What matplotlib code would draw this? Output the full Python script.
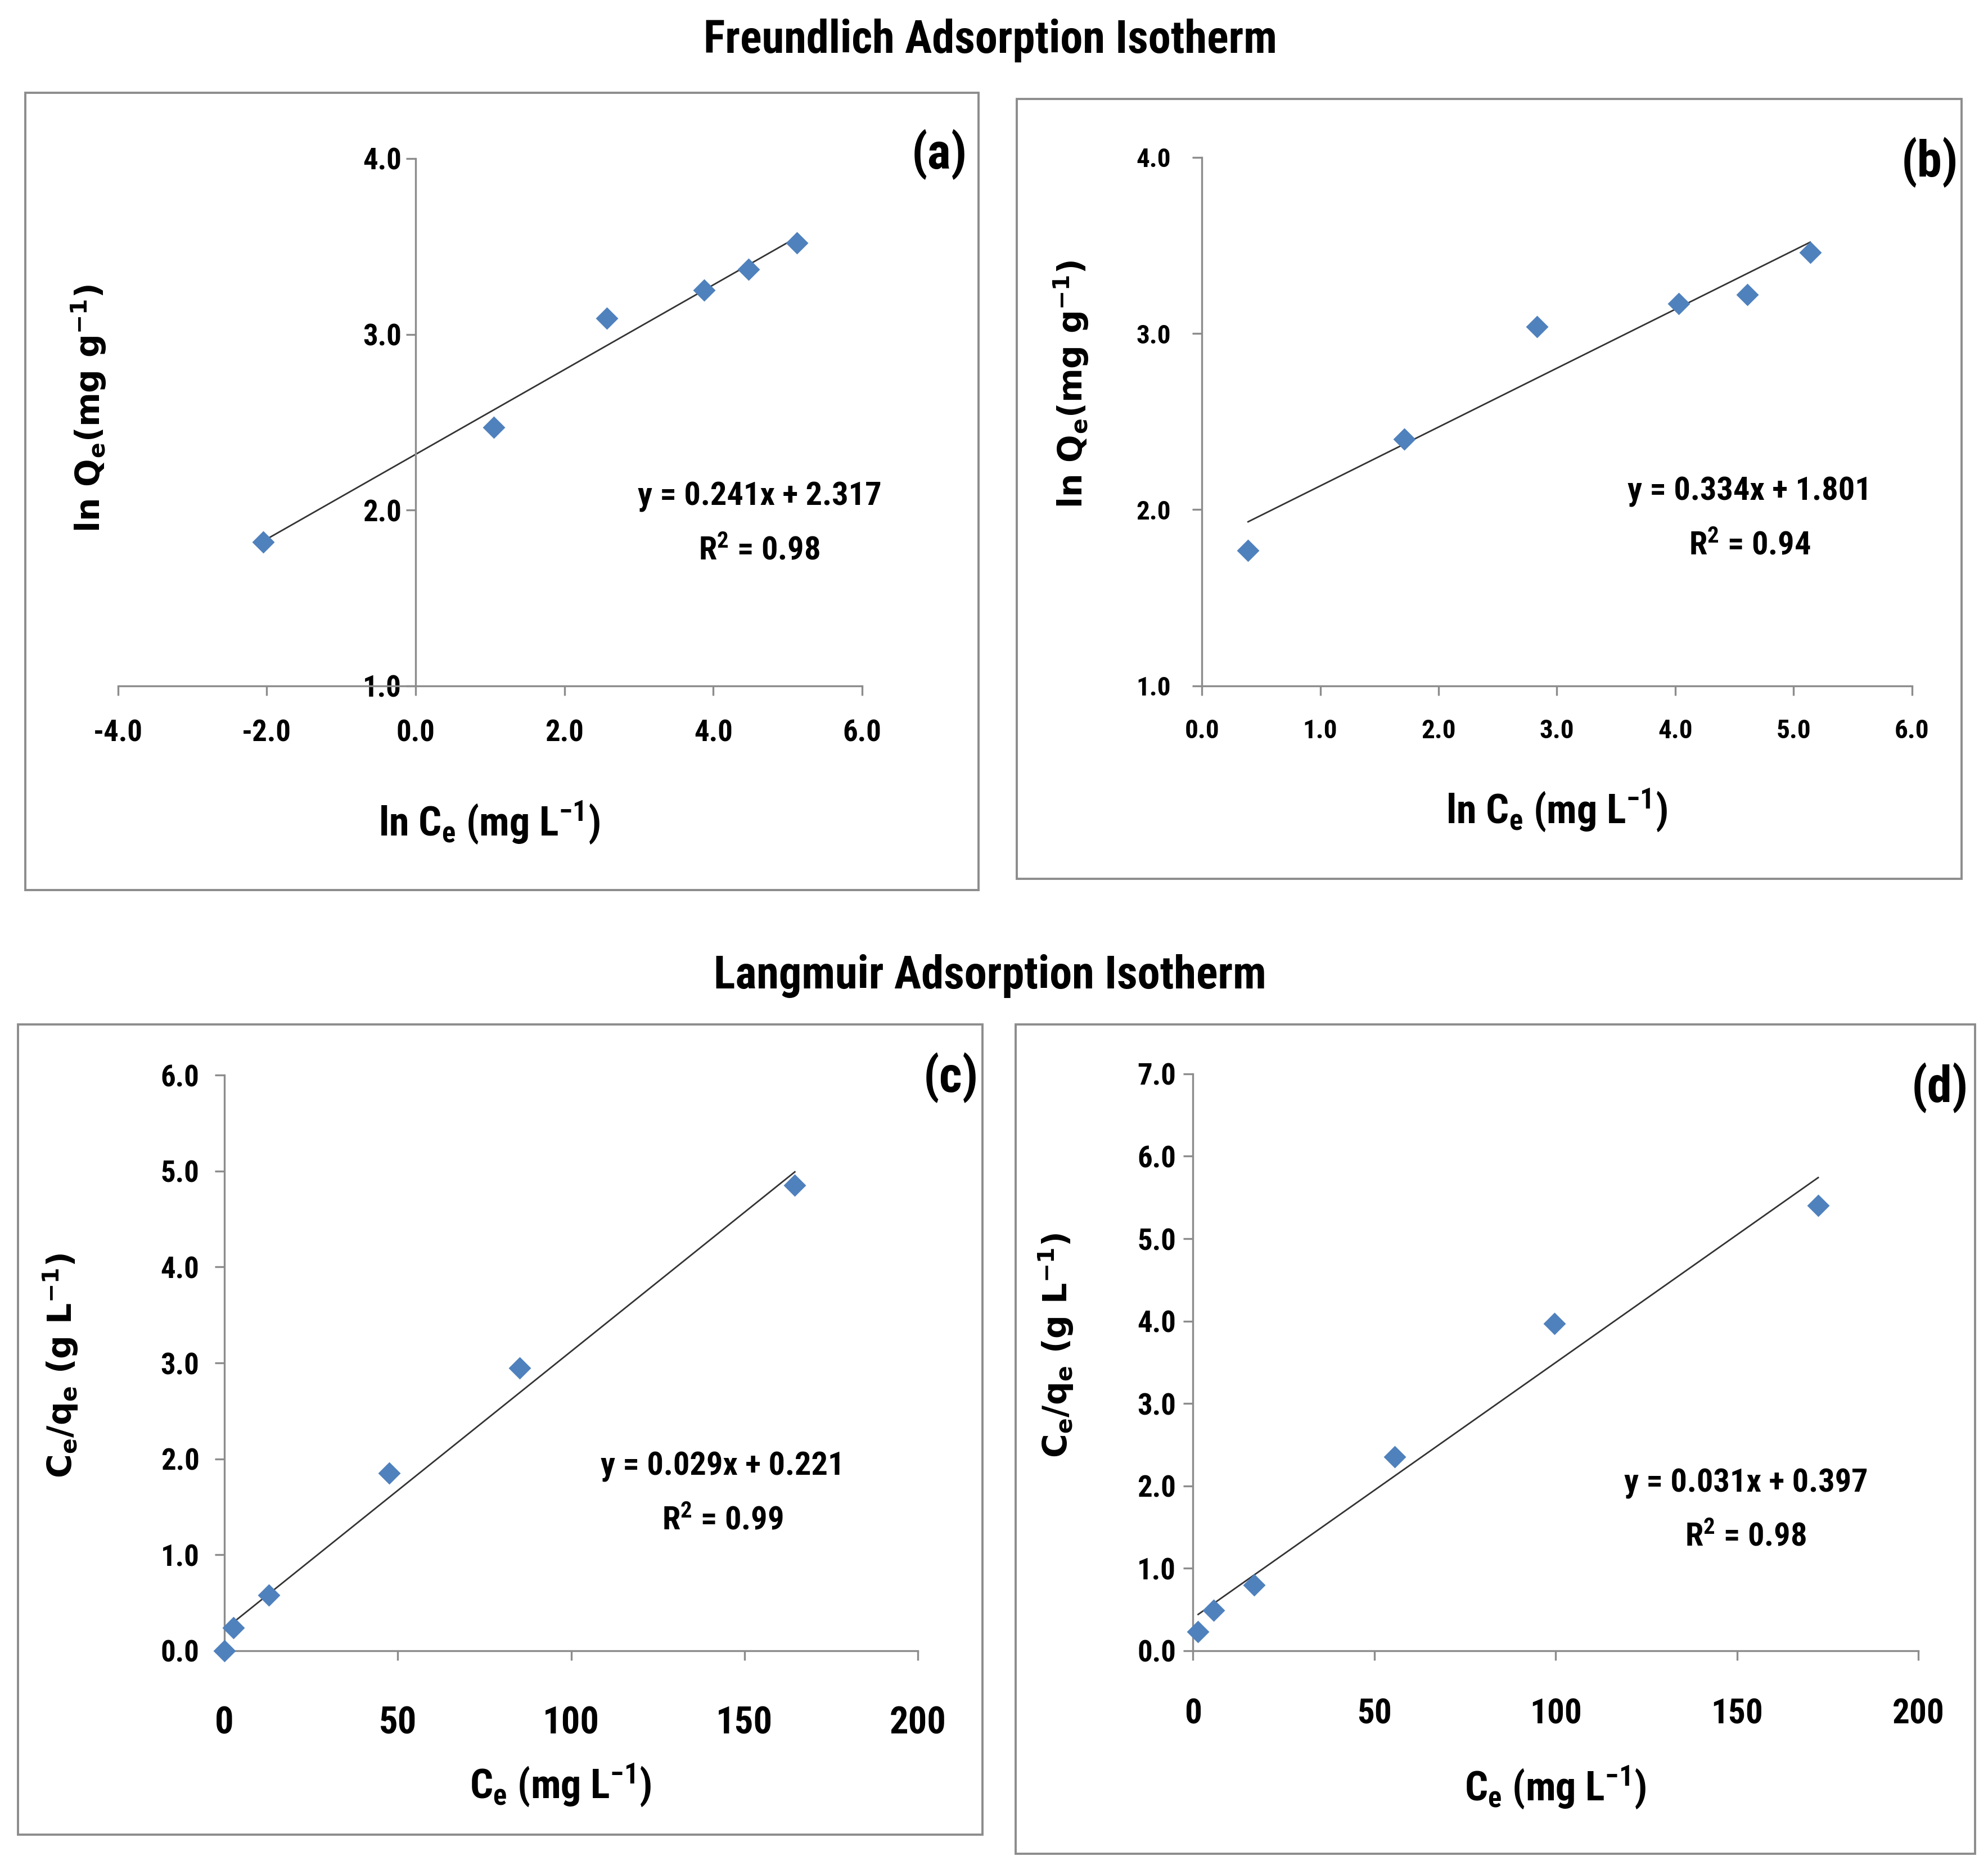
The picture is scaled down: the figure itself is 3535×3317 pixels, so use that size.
import matplotlib.pyplot as plt
from matplotlib import font_manager
from matplotlib.patches import Rectangle

# pick a narrow face close to the Calibri-like look of the original
available = {f.name for f in font_manager.fontManager.ttflist}
FONT = 'DejaVu Sans'
for cand in ['Roboto Condensed', 'Open Sans Condensed', 'PT Sans Narrow', 'Archivo Narrow',
             'Fira Sans Condensed', 'Liberation Sans Narrow', 'Arial Narrow',
             'Encode Sans Condensed', 'Barlow Semi Condensed', 'Carlito', 'Lato']:
    if cand in available:
        FONT = cand
        break

plt.rcParams['font.family'] = [FONT, 'DejaVu Sans']
plt.rcParams['mathtext.default'] = 'regular'
plt.rcParams['axes.unicode_minus'] = False

# Freundlich (a)
a_x = [-2.05, 1.05, 2.57, 3.88, 4.47, 5.12]
a_y = [1.82, 2.47, 3.09, 3.25, 3.37, 3.52]
a_fit = (0.241, 2.317, 0.98)
# Freundlich (b)
b_x = [0.39, 1.71, 2.83, 4.03, 4.61, 5.14]
b_y = [1.77, 2.40, 3.04, 3.17, 3.22, 3.46]
b_fit = (0.334, 1.801, 0.94)
# Langmuir (c)
c_x = [0.0, 2.6, 12.8, 47.5, 85.2, 164.5]
c_y = [0.0, 0.24, 0.58, 1.85, 2.95, 4.85]
c_fit = (0.029, 0.221, 0.99)
# Langmuir (d)
d_x = [1.4, 5.6, 16.8, 55.6, 99.7, 172.4]
d_y = [0.23, 0.49, 0.80, 2.35, 3.97, 5.40]
d_fit = (0.031, 0.397, 0.98)

ln_xticks = [-4.0, -2.0, 0.0, 2.0, 4.0, 6.0]
ln_xticks_b = [0.0, 1.0, 2.0, 3.0, 4.0, 5.0, 6.0]
ln_yticks = [1.0, 2.0, 3.0, 4.0]
ce_xticks = [0, 50, 100, 150, 200]
c_yticks = [0.0, 1.0, 2.0, 3.0, 4.0, 5.0, 6.0]
d_yticks = [0.0, 1.0, 2.0, 3.0, 4.0, 5.0, 6.0, 7.0]

GRAY = '#8c8c8c'
BLUE = '#4f81bd'

fig = plt.figure(figsize=(17.675, 16.585), dpi=200)


def panel(box, rect, x, y, fit, xticks, yticks, xfmt, yfmt, xpad, ypad, xsize, ysize,
          tag, tagpos, eqpos, xlab, xlabpos, ylab, ylabpos, yzero=False):
    fig.add_artist(Rectangle((box[0], box[1]), box[2] - box[0], box[3] - box[1],
                             transform=fig.transFigure, fill=False,
                             edgecolor=GRAY, linewidth=1.4))
    ax = fig.add_axes([rect[0], rect[1], rect[2] - rect[0], rect[3] - rect[1]])
    ax.set_facecolor('none')
    ax.set_xlim(xticks[0], xticks[-1])
    ax.set_ylim(yticks[0], yticks[-1])
    for s in ['top', 'right']:
        ax.spines[s].set_visible(False)
    for s in ['left', 'bottom']:
        ax.spines[s].set_color(GRAY)
        ax.spines[s].set_linewidth(1.2)
    if yzero:
        ax.spines['left'].set_position(('data', 0))
    ax.set_xticks(xticks)
    ax.set_yticks(yticks)
    ax.set_xticklabels([xfmt % v for v in xticks])
    ax.set_yticklabels([yfmt % v for v in yticks])
    ax.tick_params(axis='x', length=6, width=1.2, color=GRAY, pad=xpad,
                   labelsize=xsize)
    ax.tick_params(axis='y', length=6, width=1.2, color=GRAY, pad=ypad,
                   labelsize=ysize)
    for lab in ax.get_xticklabels() + ax.get_yticklabels():
        lab.set_fontweight('bold')

    slope, icpt, r2 = fit
    xs = [min(x), max(x)]
    ax.plot(xs, [slope * v + icpt for v in xs], color='#333333', lw=1.0, zorder=2)
    ax.plot(x, y, linestyle='none', marker='D', markersize=9, color=BLUE,
            markeredgecolor=BLUE, zorder=3, clip_on=False)

    fig.text(tagpos[0], tagpos[1], tag, fontsize=32, fontweight='bold',
             ha='center', va='center')
    fig.text(eqpos[0], eqpos[1], 'y = %.3fx + %.3f' % (slope, icpt), fontsize=21,
             fontweight='bold', ha='center', va='center')
    fig.text(eqpos[0], eqpos[1] - 0.029, r'R$^2$ = %.2f' % r2, fontsize=21,
             fontweight='bold', ha='center', va='center')
    fig.text(xlabpos[0], xlabpos[1], xlab, fontsize=26, fontweight='bold',
             ha='center', va='center')
    fig.text(ylabpos[0], ylabpos[1], ylab, fontsize=21, fontweight='bold',
             ha='center', va='center', rotation=90, family='DejaVu Sans')
    return ax


W, H = 1568.0, 1471.0


def fx(px):
    return px / W


def fy(py):
    return 1 - py / H


ln_xlab = r'ln C$_e$ (mg L$^{-1}$)'
ln_ylab = r'ln Q$_e$(mg g$^{-1}$)'
ce_xlab = r'C$_e$ (mg L$^{-1}$)'
ce_ylab = r'C$_e$/q$_e$ (g L$^{-1}$)'

panel((fx(20), fy(702), fx(772), fy(73)), (fx(93), fy(541), fx(680), fy(125)),
      a_x, a_y, a_fit, ln_xticks, ln_yticks, '%.1f', '%.1f', 15, 3, 19, 19,
      '(a)', (fx(741), fy(122)), (fx(599), fy(392)),
      ln_xlab, (fx(386), fy(649)), ln_ylab, (fx(70), fy(322)), yzero=True)

panel((fx(802), fy(693), fx(1547), fy(78)), (fx(948), fy(541), fx(1508), fy(124)),
      b_x, b_y, b_fit, ln_xticks_b, ln_yticks, '%.1f', '%.1f', 15, 14, 17, 17,
      '(b)', (fx(1522), fy(128)), (fx(1380), fy(388)),
      ln_xlab, (fx(1228), fy(639)), ln_ylab, (fx(845), fy(303)))

panel((fx(14), fy(1447), fx(775), fy(808)), (fx(177), fy(1302), fx(724), fy(848)),
      c_x, c_y, c_fit, ce_xticks, c_yticks, '%d', '%.1f', 29, 10, 24, 19,
      '(c)', (fx(750), fy(850)), (fx(570), fy(1157)),
      ce_xlab, (fx(442), fy(1408)), ce_ylab, (fx(48), fy(1077)))

panel((fx(801), fy(1462), fx(1558), fy(808)), (fx(941), fy(1302), fx(1513), fy(847)),
      d_x, d_y, d_fit, ce_xticks, d_yticks, '%d', '%.1f', 24, 5, 22, 19,
      '(d)', (fx(1530), fy(858)), (fx(1377), fy(1170)),
      ce_xlab, (fx(1227), fy(1410)), ce_ylab, (fx(833), fy(1061)))

fig.text(fx(781), fy(32), 'Freundlich Adsorption Isotherm', fontsize=29,
         fontweight='bold', ha='center', va='center')
fig.text(fx(781), fy(770), 'Langmuir Adsorption Isotherm', fontsize=29,
         fontweight='bold', ha='center', va='center')

fig.savefig('out.png', dpi=200, facecolor='white')
